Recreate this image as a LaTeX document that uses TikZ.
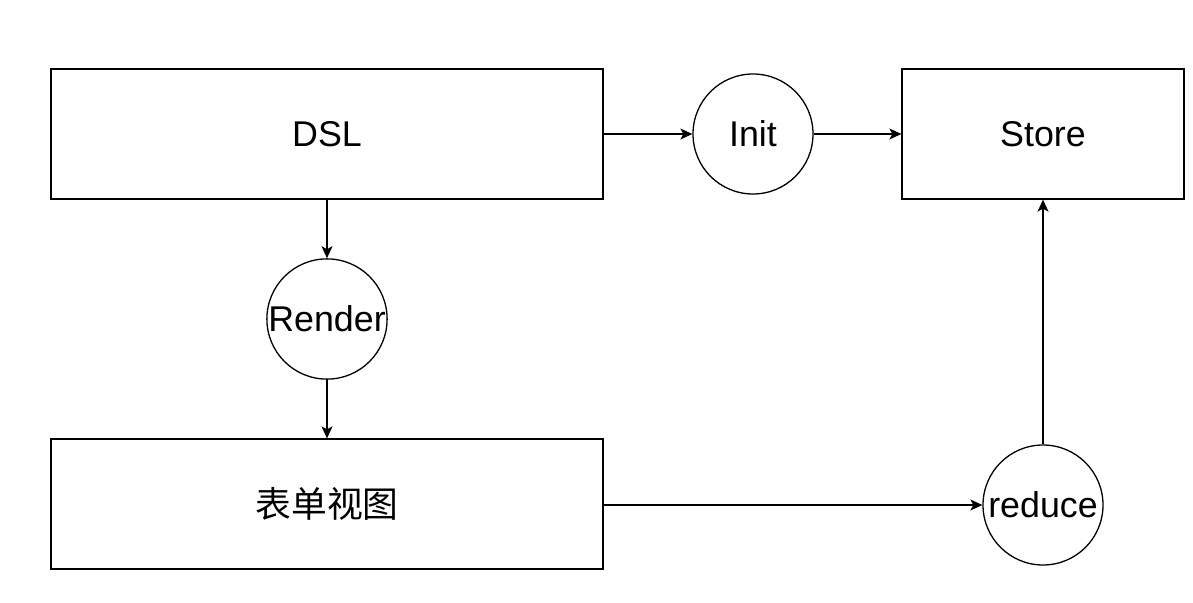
\documentclass[tikz,border=0pt]{standalone}
\usepackage{fontspec}
\setmainfont{Liberation Sans}
\newfontfamily\cjk{Noto Sans CJK SC}
\usetikzlibrary{arrows.meta}
\begin{document}
\begin{tikzpicture}[x=1pt,y=-1pt,
  box/.style={draw,line width=1.3pt,minimum width=552pt,minimum height=130pt,inner sep=0pt,font=\fontsize{35.8}{40}\selectfont},
  sbox/.style={draw,line width=1.3pt,minimum width=282pt,minimum height=130pt,inner sep=0pt,font=\fontsize{35.8}{40}\selectfont},
  circ/.style={draw,circle,line width=1.3pt,minimum size=120pt,inner sep=0pt,font=\fontsize{35.8}{40}\selectfont},
  conn/.style={line width=1.3pt,-{Stealth[length=12pt,width=11pt,inset=3pt]}}]
\useasboundingbox (0,0) rectangle (1193,602);
\node[box] (dsl) at (327,134) {DSL};
\node[circ] (init) at (753,134) {Init};
\node[sbox] (store) at (1043,134) {Store};
\node[circ] (render) at (327,319) {Render};
\node[box] (form) at (327,504) {\cjk 表单视图};
\node[circ] (reduce) at (1043,505) {reduce};
\draw[conn] (dsl.east) -- (init.west);
\draw[conn] (init.east) -- (store.west);
\draw[conn] (dsl.south) -- (render.north);
\draw[conn] (render.south) -- (form.north);
\draw[conn] (form.east |- reduce.west) -- (reduce.west);
\draw[conn] (reduce.north) -- (store.south);
\end{tikzpicture}
\end{document}
